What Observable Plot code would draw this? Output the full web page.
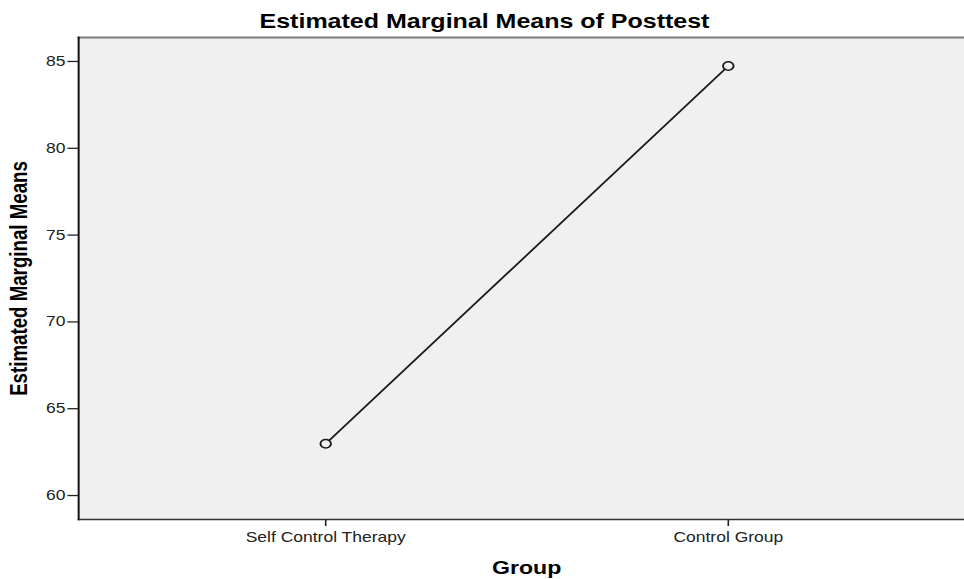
<!DOCTYPE html>
<html>
<head>
<meta charset="utf-8">
<script src="https://cdn.jsdelivr.net/npm/d3@7"></script>
<script src="https://cdn.jsdelivr.net/npm/@observablehq/plot@0.6"></script>
<style>
  html, body { margin: 0; padding: 0; background: #ffffff; overflow: hidden; }
  #chart svg { display: block; }
</style>
</head>
<body>
<div id="chart"></div>
<script>
// ---- data ----
const groups = ["Self Control Therapy", "Control Group"];
const means = [62.98, 84.74];
const yTicks = [60, 65, 70, 75, 80, 85];
const yDomain = [58.62, 86.38];
const titleText = "Estimated Marginal Means of Posttest";
const xLabel = "Group";
const yLabel = "Estimated Marginal Means";

const data = groups.map((g, i) => ({group: g, mean: means[i]}));

// internal drawing width; the picture is stretched horizontally to 964px
const W = 771, H = 579;
const FONT = "'Liberation Sans', Arial, Helvetica, sans-serif";

const chart = Plot.plot({
  width: W,
  height: H,
  marginTop: 37,
  marginBottom: 60,
  marginLeft: 62.4,
  marginRight: 0,
  style: {fontFamily: FONT, fontSize: "14px", background: "#ffffff", color: "#111", overflow: "visible"},
  x: {type: "point", domain: groups, range: [260, 582.4], padding: 0},
  y: {domain: yDomain},
  marks: [
    Plot.frame({fill: "#f0f0f0", stroke: null}),
    Plot.frame({anchor: "top", stroke: "#7d7d7d", strokeWidth: 2}),
    Plot.frame({anchor: "bottom", stroke: "#333333", strokeWidth: 1.5}),
    Plot.frame({anchor: "left", stroke: "#111111", strokeWidth: 1.6}),
    Plot.axisY({ticks: yTicks, tickSize: 8.5, tickPadding: 2, label: null, stroke: "#222", strokeWidth: 1.3, fontSize: 14, fill: "#222"}),
    Plot.axisX({tickSize: 7, tickPadding: 6, label: null, stroke: "#222", strokeWidth: 1.3, fontSize: 14, fill: "#222"}),
    Plot.line(data, {x: "group", y: "mean", stroke: "#1a1a1a", strokeWidth: 1.6}),
    Plot.dot(data, {x: "group", y: "mean", r: 4.2, stroke: "#1a1a1a", strokeWidth: 1.5, fill: "#f0f0f0"}),
    Plot.text([titleText], {frameAnchor: "top", lineAnchor: "middle", textAnchor: "middle", dx: -29.7, dy: -16, fontSize: 20, fontWeight: "bold", fill: "#000"}),
    Plot.text([xLabel], {frameAnchor: "bottom", lineAnchor: "middle", textAnchor: "middle", dx: 4, dy: 49, fontSize: 18.5, fontWeight: "bold", fill: "#000"}),
    Plot.text([yLabel], {frameAnchor: "left", rotate: -90, lineAnchor: "middle", textAnchor: "middle", dx: -47.6, fontSize: 18.7, fontWeight: "bold", fill: "#000"})
  ]
});

chart.setAttribute("width", 964);
chart.setAttribute("height", 579);
chart.setAttribute("preserveAspectRatio", "none");
chart.style.width = "964px";
chart.style.height = "579px";
chart.style.maxWidth = "none";
document.getElementById("chart").appendChild(chart);
</script>
</body>
</html>
